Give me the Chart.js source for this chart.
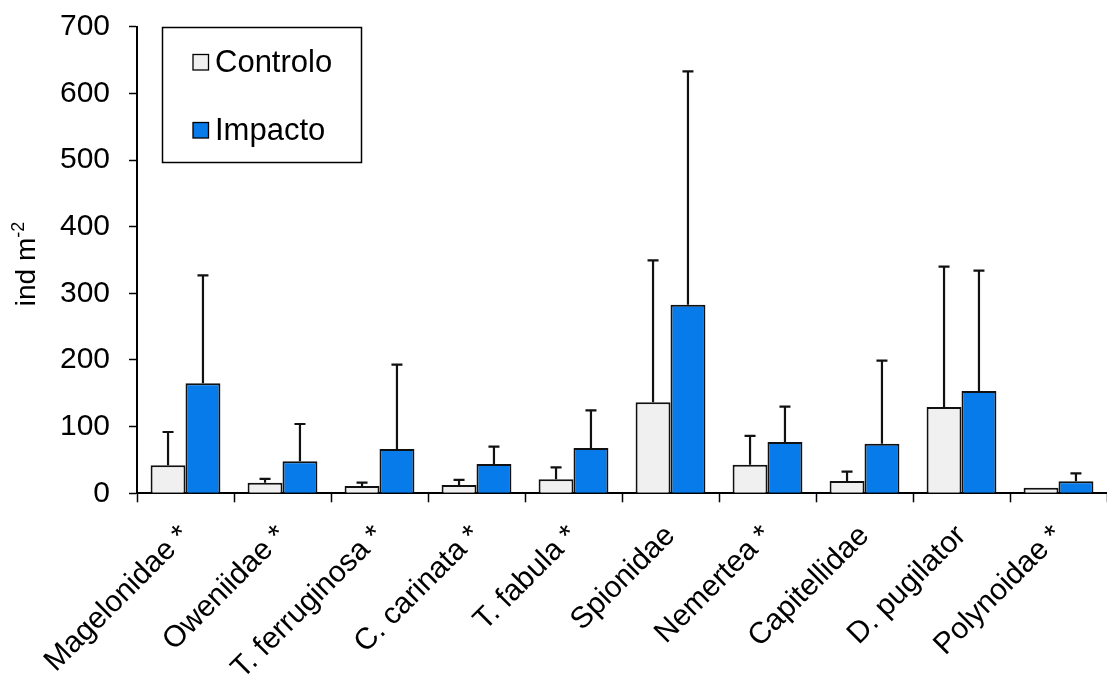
<!DOCTYPE html>
<html>
<head>
<meta charset="utf-8">
<script src="https://cdn.jsdelivr.net/npm/chart.js@4/dist/chart.umd.min.js"></script>
<style>
  html, body { margin: 0; padding: 0; background: #ffffff; }
  #wrap { width: 1107px; height: 679px; position: relative; }
</style>
</head>
<body>
<div id="wrap"><canvas id="chart"></canvas></div>
<script>
// Taxa (asterisk = significant difference)
const taxa = ['Magelonidae *', 'Oweniidae *', 'T. ferruginosa *', 'C. carinata *', 'T. fabula *',
              'Spionidae', 'Nemertea *', 'Capitellidae', 'D. pugilator', 'Polynoidae *'];

// Mean densities (ind m-2)
const controloMean = [42, 16, 11, 12.5, 21, 136.5, 43, 18.5, 129.5, 8.5];
const impactoMean  = [165, 48, 66.5, 44, 68, 283, 77, 74.5, 153.5, 18];

// Standard deviations (upper error bars)
const controloSD = [50, 5.5, 5, 7.5, 18, 213, 43, 14, 210.5, 0];
const impactoSD  = [162, 56, 126.5, 26, 56.5, 350, 53, 124.5, 180.5, 12];

const yTicks = [0, 100, 200, 300, 400, 500, 600, 700];

const FONT = '"Liberation Sans", Arial, sans-serif';

// Upper error bars with caps
const errorBars = {
  id: 'errorBars',
  afterDatasetsDraw(chart) {
    const { ctx } = chart;
    const y = chart.scales.y;
    chart.data.datasets.forEach((ds, i) => {
      const meta = chart.getDatasetMeta(i);
      meta.data.forEach((bar, j) => {
        const sd = ds.sd[j];
        if (!sd) return;
        const top = y.getPixelForValue(ds.data[j] + sd);
        ctx.save();
        ctx.strokeStyle = '#111';
        ctx.lineWidth = 2.2;
        ctx.beginPath();
        ctx.moveTo(bar.x, bar.y);
        ctx.lineTo(bar.x, top);
        ctx.moveTo(bar.x - 5.5, top);
        ctx.lineTo(bar.x + 5.5, top);
        ctx.stroke();
        ctx.restore();
      });
    });
  }
};

// Boxed legend in the upper-left of the plot area
const boxedLegend = {
  id: 'boxedLegend',
  afterDraw(chart) {
    const { ctx } = chart;
    const x0 = 162.5, y0 = 27.5, w = 199, h = 135;
    ctx.save();
    ctx.fillStyle = '#fff';
    ctx.fillRect(x0, y0, w, h);
    ctx.strokeStyle = '#000';
    ctx.lineWidth = 1.5;
    ctx.strokeRect(x0, y0, w, h);
    ctx.font = '31px ' + FONT;
    ctx.textBaseline = 'middle';
    chart.data.datasets.forEach((ds, i) => {
      const cy = 62 + i * 68;
      ctx.fillStyle = ds.backgroundColor;
      ctx.fillRect(193, cy - 7.5, 15.5, 15.5);
      ctx.strokeStyle = '#000';
      ctx.lineWidth = 1.3;
      ctx.strokeRect(193, cy - 7.5, 15.5, 15.5);
      ctx.fillStyle = '#000';
      ctx.fillText(ds.label, 215, cy + 1);
    });
    ctx.restore();
  }
};

// Y-axis title with superscript exponent
const yTitle = {
  id: 'yTitle',
  afterDraw(chart) {
    const { ctx } = chart;
    ctx.save();
    ctx.translate(35, 264);
    ctx.rotate(-Math.PI / 2);
    ctx.fillStyle = '#000';
    ctx.textBaseline = 'alphabetic';
    ctx.font = '28px ' + FONT;
    const base = 'ind m';
    const wBase = ctx.measureText(base).width;
    ctx.font = '18px ' + FONT;
    const wSup = ctx.measureText('-2').width;
    const total = wBase + wSup;
    ctx.font = '28px ' + FONT;
    ctx.fillText(base, -total / 2, 0);
    ctx.font = '18px ' + FONT;
    ctx.fillText('-2', -total / 2 + wBase, -11);
    ctx.restore();
  }
};

new Chart(document.getElementById('chart'), {
  type: 'bar',
  data: {
    labels: taxa,
    datasets: [
      { label: 'Controlo', data: controloMean, sd: controloSD,
        backgroundColor: '#f0f0f0', borderColor: '#111', borderWidth: 2 },
      { label: 'Impacto', data: impactoMean, sd: impactoSD,
        backgroundColor: '#067be9', borderColor: '#111', borderWidth: 2 }
    ]
  },
  options: {
    responsive: true,
    maintainAspectRatio: false,
    animation: false,
    events: [],
    layout: { padding: { top: 26.7, right: 0, left: 0, bottom: 0 } },
    datasets: { bar: { barPercentage: 1.0, categoryPercentage: 0.72 } },
    plugins: { legend: { display: false }, tooltip: { enabled: false } },
    scales: {
      x: {
        offset: true,
        grid: { offset: true, drawOnChartArea: false, drawTicks: true, tickLength: 9, tickColor: '#000', tickWidth: 1.5 },
        border: { display: true, color: '#000', width: 2 },
        ticks: {
          autoSkip: false, minRotation: 45, maxRotation: 45, padding: 16,
          color: '#000', font: { family: FONT, size: 30 }
        },
        afterFit(scale) { scale.height = 185.7; scale.paddingLeft = 0; scale.paddingRight = 0; }
      },
      y: {
        min: 0, max: 700,
        afterBuildTicks(scale) { scale.ticks = yTicks.map(v => ({ value: v })); },
        grid: { drawOnChartArea: false, drawTicks: true, tickLength: 8, tickColor: '#000', tickWidth: 1.5 },
        border: { display: true, color: '#000', width: 2 },
        ticks: { padding: 19, color: '#000', font: { family: FONT, size: 30 } },
        afterFit(scale) { scale.width = 137; scale.paddingTop = 0; scale.paddingBottom = 0; }
      }
    }
  },
  plugins: [errorBars, boxedLegend, yTitle]
});
</script>
</body>
</html>
